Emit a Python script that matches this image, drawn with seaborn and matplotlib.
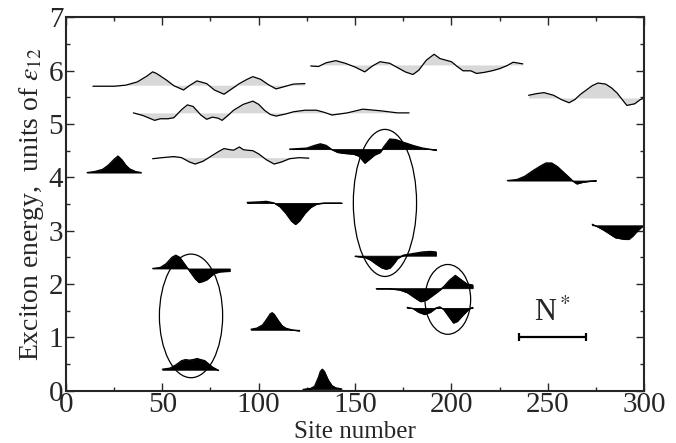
import numpy as np
import pandas as pd
import matplotlib
matplotlib.use("Agg")
import matplotlib.pyplot as plt
import seaborn as sns
from matplotlib.patches import Ellipse
from matplotlib.ticker import MultipleLocator

# --- high-energy (delocalised) states, grey fill ---
g1_site = [14, 25, 31, 37, 42, 45, 47, 52, 56, 61, 64, 68, 73, 77, 82, 86, 90, 94, 97, 101, 105, 109, 113, 118, 124]
g1_E = [5.71, 5.71, 5.73, 5.79, 5.90, 5.98, 5.95, 5.83, 5.72, 5.64, 5.72, 5.81, 5.76, 5.64, 5.56, 5.66, 5.76, 5.84, 5.89, 5.84, 5.74, 5.66, 5.70, 5.75, 5.76]
g1_base = 5.73

g2_site = [35, 40, 46, 49, 53, 56, 60, 63, 66, 70, 73, 76, 79, 81, 84, 87, 92, 97, 100, 103, 106, 109, 114, 118, 124, 130, 134, 138, 146, 154, 163, 172, 178]
g2_E = [5.21, 5.16, 5.07, 5.10, 5.10, 5.12, 5.27, 5.36, 5.33, 5.17, 5.09, 5.13, 5.11, 5.07, 5.16, 5.26, 5.37, 5.43, 5.37, 5.26, 5.18, 5.15, 5.19, 5.23, 5.26, 5.26, 5.22, 5.17, 5.21, 5.28, 5.25, 5.21, 5.21]
g2_base = 5.21

g3_site = [45, 50, 56, 60, 64, 67, 71, 75, 79, 82, 85, 87, 90, 92, 94, 97, 100, 104, 108, 112, 116, 121, 126]
g3_E = [4.35, 4.37, 4.39, 4.37, 4.29, 4.25, 4.30, 4.39, 4.48, 4.54, 4.52, 4.51, 4.57, 4.52, 4.51, 4.50, 4.44, 4.33, 4.25, 4.29, 4.35, 4.37, 4.36]
g3_base = 4.37

g4_site = [127, 131, 135, 140, 145, 150, 155, 159, 163, 168, 172, 176, 180, 183, 187, 191, 194, 200, 203, 206, 210, 213, 217, 221, 225, 229, 232, 237]
g4_E = [6.09, 6.08, 6.15, 6.19, 6.14, 6.07, 5.98, 6.09, 6.17, 6.14, 6.06, 5.98, 5.93, 6.01, 6.20, 6.31, 6.23, 6.17, 6.08, 6.00, 6.00, 5.95, 5.97, 6.00, 6.04, 6.10, 6.16, 6.13]
g4_base = 6.11

g5_site = [240, 244, 248, 253, 257, 261, 264, 267, 270, 273, 276, 280, 283, 286, 289, 291, 295, 298, 300]
g5_E = [5.54, 5.57, 5.59, 5.54, 5.46, 5.40, 5.46, 5.56, 5.64, 5.72, 5.77, 5.75, 5.68, 5.58, 5.44, 5.35, 5.38, 5.46, 5.49]
g5_base = 5.49

# --- low-energy (localised) states, black fill ---
b1_site = [11, 15, 19, 22, 25, 27, 29, 31, 33, 36, 39]
b1_E = [4.09, 4.11, 4.15, 4.23, 4.34, 4.40, 4.33, 4.23, 4.16, 4.11, 4.09]
b1_base = 4.09

b2_site = [94, 100, 104, 108, 111, 114, 117, 119, 121, 124, 127, 130, 134, 143]
b2_E = [3.53, 3.54, 3.55, 3.52, 3.45, 3.33, 3.18, 3.12, 3.18, 3.33, 3.44, 3.50, 3.52, 3.52]
b2_base = 3.52

b3_site = [116, 125, 129, 132, 135, 138, 141, 145, 149, 152, 155, 157, 160, 163, 165, 168, 171, 175, 180, 185, 192]
b3_E = [4.53, 4.55, 4.60, 4.63, 4.60, 4.52, 4.47, 4.45, 4.44, 4.40, 4.27, 4.33, 4.42, 4.47, 4.58, 4.72, 4.71, 4.66, 4.60, 4.55, 4.51]
b3_base = 4.53

b4_site = [150, 155, 158, 161, 164, 166, 168, 170, 172, 175, 180, 185, 189, 192]
b4_E = [2.52, 2.50, 2.45, 2.37, 2.30, 2.28, 2.30, 2.38, 2.48, 2.54, 2.57, 2.60, 2.61, 2.60]
b4_base = 2.53

b5_site = [161, 168, 173, 177, 181, 184, 187, 190, 193, 196, 199, 202, 205, 208, 211]
b5_E = [1.91, 1.91, 1.89, 1.84, 1.74, 1.67, 1.70, 1.78, 1.86, 1.95, 2.07, 2.16, 2.08, 2.00, 1.98]
b5_base = 1.92

b6_site = [177, 180, 183, 186, 189, 192, 194, 196, 198, 201, 203, 206, 209, 211]
b6_E = [1.56, 1.54, 1.47, 1.43, 1.47, 1.55, 1.57, 1.52, 1.42, 1.27, 1.30, 1.42, 1.53, 1.56]
b6_base = 1.55

b7_site = [45, 49, 52, 55, 57, 59, 61, 63, 65, 67, 69, 71, 73, 75, 77, 80, 85]
b7_E = [2.29, 2.31, 2.38, 2.50, 2.54, 2.50, 2.40, 2.30, 2.20, 2.10, 2.03, 2.05, 2.08, 2.14, 2.20, 2.23, 2.24]
b7_base = 2.29

b8_site = [50, 54, 57, 60, 62, 64, 66, 68, 70, 72, 74, 76, 79]
b8_E = [0.40, 0.42, 0.48, 0.56, 0.58, 0.57, 0.58, 0.60, 0.58, 0.56, 0.50, 0.44, 0.38]
b8_base = 0.39

b9_site = [96, 99, 102, 104, 106, 107, 108, 110, 112, 114, 117, 121]
b9_E = [1.15, 1.17, 1.23, 1.33, 1.44, 1.46, 1.43, 1.32, 1.22, 1.17, 1.14, 1.12]
b9_base = 1.14

b10_site = [123, 127, 129, 131, 132, 133, 134, 136, 138, 140, 143]
b10_E = [0.02, 0.04, 0.08, 0.25, 0.36, 0.40, 0.36, 0.20, 0.09, 0.05, 0.03]
b10_base = 0.03

b11_site = [229, 234, 238, 242, 246, 249, 252, 255, 258, 261, 263, 265, 268, 272, 275]
b11_E = [3.94, 3.96, 4.02, 4.12, 4.21, 4.27, 4.27, 4.20, 4.10, 4.00, 3.93, 3.88, 3.91, 3.93, 3.94]
b11_base = 3.94

b12_site = [273, 276, 279, 282, 285, 288, 290, 292, 294, 296, 298, 299]
b12_E = [3.12, 3.07, 3.01, 2.94, 2.87, 2.85, 2.84, 2.84, 2.90, 2.98, 3.05, 3.08]
b12_base = 3.10

# ellipses grouping states: centre site, centre energy, width, height
ell_site = [64.9, 165.5, 198.1]
ell_E = [1.40, 3.52, 1.71]
ell_w = [32.8, 32.8, 23.7]
ell_h = [2.32, 2.76, 1.31]

# N* scale bar
nstar_start, nstar_end, nstar_E = 235, 270, 1.0

grey_states = [(g1_site, g1_E, g1_base), (g2_site, g2_E, g2_base), (g3_site, g3_E, g3_base),
               (g4_site, g4_E, g4_base), (g5_site, g5_E, g5_base)]
black_states = [(b1_site, b1_E, b1_base), (b2_site, b2_E, b2_base), (b3_site, b3_E, b3_base),
                (b4_site, b4_E, b4_base), (b5_site, b5_E, b5_base), (b6_site, b6_E, b6_base),
                (b7_site, b7_E, b7_base), (b8_site, b8_E, b8_base), (b9_site, b9_E, b9_base),
                (b10_site, b10_E, b10_base), (b11_site, b11_E, b11_base), (b12_site, b12_E, b12_base)]

sns.set_style("ticks")
plt.rcParams['font.family'] = ['Liberation Serif', 'DejaVu Serif']
plt.rcParams['mathtext.fontset'] = 'stix'

fig = plt.figure(figsize=(6.76, 4.43), dpi=100)
ax = fig.add_axes([0.0975, 0.1185, 0.8555, 0.842])

for site, E, base in grey_states:
    ax.fill_between(site, E, base, color='#d8d8d8', lw=0, zorder=1)
    df = pd.DataFrame({'site': site, 'E': E})
    sns.lineplot(data=df, x='site', y='E', ax=ax, color='black', lw=0.9,
                 sort=False, estimator=None, zorder=2)

for site, E, base in black_states:
    ax.fill_between(site, E, base, color='black', lw=0.6, edgecolor='black', zorder=1)
    df = pd.DataFrame({'site': site, 'E': E})
    sns.lineplot(data=df, x='site', y='E', ax=ax, color='black', lw=0.9,
                 sort=False, estimator=None, zorder=2)

for xs, ys, w, h in zip(ell_site, ell_E, ell_w, ell_h):
    ax.add_patch(Ellipse((xs, ys), w, h, fill=False, edgecolor='black', lw=0.9, zorder=3))

ax.errorbar([(nstar_start + nstar_end) / 2], [nstar_E], xerr=[(nstar_end - nstar_start) / 2],
            color='black', lw=1.6, capsize=3, capthick=1.6)
ax.text(252.5, 1.17, r'N$^*$', ha='center', va='bottom', fontsize=22)

ax.set_xlim(0, 300)
ax.set_ylim(0, 7)
ax.xaxis.set_major_locator(MultipleLocator(50))
ax.xaxis.set_minor_locator(MultipleLocator(25))
ax.yaxis.set_major_locator(MultipleLocator(1))
ax.yaxis.set_minor_locator(MultipleLocator(0.5))
ax.tick_params(which='both', direction='in', top=True, right=True, width=1.0, labelsize=21)
ax.tick_params(axis='x', pad=1)
ax.tick_params(axis='y', pad=2)
ax.tick_params(which='major', length=6)
ax.tick_params(which='minor', length=3)
for sp in ax.spines.values():
    sp.set_linewidth(1.5)
ax.set_xlabel('Site number', fontsize=18)
ax.xaxis.set_label_coords(0.5, -0.083)
ax.set_ylabel(r'Exciton energy,  units of $\varepsilon_{12}$', fontsize=20, labelpad=2)

fig.savefig('out.png', dpi=100)
